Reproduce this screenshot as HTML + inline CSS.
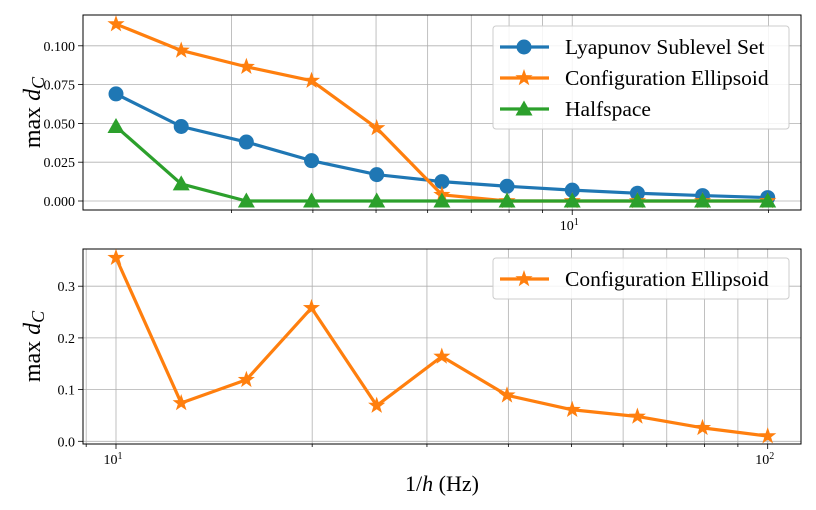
<!DOCTYPE html>
<html><head><meta charset="utf-8"><style>
body{margin:0;background:#fff}
svg{display:block;font-family:"Liberation Serif",serif}
</style></head><body>
<svg id="fig" width="816" height="510" viewBox="0 0 816 510" xmlns="http://www.w3.org/2000/svg"></svg>
<script>
const topFreq=[1.995,2.512,3.162,3.981,5.012,6.310,7.943,10,12.59,15.85,19.95];
const bottomFreq=[10,12.59,15.85,19.95,25.12,31.62,39.81,50.12,63.10,79.43,100];
const lyapunov=[0.069,0.048,0.038,0.026,0.017,0.0125,0.0095,0.007,0.005,0.0035,0.0022];
const ellipsoidTop=[0.114,0.097,0.0865,0.0775,0.047,0.004,0,0,0,0,0];
const halfspace=[0.048,0.011,0,0,0,0,0,0,0,0,0];
const ellipsoidBottom=[0.355,0.074,0.119,0.258,0.069,0.164,0.089,0.061,0.048,0.026,0.010];
const topTicks=[0,0.025,0.05,0.075,0.1];
const topTickLabels=["0.000","0.025","0.050","0.075","0.100"];
const botTicks=[0,0.1,0.2,0.3];
const botTickLabels=["0.0","0.1","0.2","0.3"];

const NS="http://www.w3.org/2000/svg";
const svg=document.getElementById('fig');
function mk(tag,attrs,parent){const e=document.createElementNS(NS,tag);for(const k in attrs)e.setAttribute(k,attrs[k]);(parent||svg).appendChild(e);return e;}
const L=83,R=801;
const decade=651.7;
function xBot(v){return 116+Math.log10(v/10)*decade;}
function xTop(v){return 116+Math.log10(v/1.995)*decade;}
function yTop(v){return 201-v/0.025*38.8;}
function yBot(v){return 441.3-v/0.1*51.7;}
const C={blue:'#1f77b4',orange:'#ff7f0e',green:'#2ca02c'};

function starPts(cx,cy,r){let p=[];for(let i=0;i<10;i++){const a=-Math.PI/2+i*Math.PI/5;const rr=i%2?r*0.4:r;p.push((cx+rr*Math.cos(a)).toFixed(1)+','+(cy+rr*Math.sin(a)).toFixed(1));}return p.join(' ');}
function marker(type,x,y,col,g){
 if(type==='o') return mk('circle',{cx:x,cy:y,r:7.5,fill:col},g);
 if(type==='*') return mk('polygon',{points:starPts(x,y,9),fill:col},g);
 return mk('polygon',{points:`${x},${y-8.5} ${x-8.5},${y+6.5} ${x+8.5},${y+6.5}`,fill:col},g);
}
function axes(name,T,B,xf,minorVals,majorVals,majorLabels,ticks,tickLabels,yf){
 const g=mk('g',{});
 
 
 minorVals.concat(majorVals).forEach(v=>{const x=xf(v);if(x<L||x>R)return;mk('line',{x1:x,x2:x,y1:T,y2:B,stroke:'#b0b0b0','stroke-width':0.8},g);mk('line',{x1:x,x2:x,y1:B,y2:B+(majorVals.includes(v)?5:3),stroke:'#000','stroke-width':0.8},g);});
 ticks.forEach((t,i)=>{const y=yf(t);mk('line',{x1:L,x2:R,y1:y,y2:y,stroke:'#b0b0b0','stroke-width':0.8},g);mk('line',{x1:L-5,x2:L,y1:y,y2:y,stroke:'#000','stroke-width':0.8},g);const tx=mk('text',{x:L-8,y:y+5,'text-anchor':'end','font-size':14,fill:'#000'},g);tx.textContent=tickLabels[i];});
 majorVals.forEach((v,i)=>{const x=xf(v);const tx=mk('text',{x:x-3,y:B+20,'text-anchor':'middle','font-size':14},g);tx.textContent='10';const s=mk('tspan',{dy:-5,'font-size':10},tx);s.textContent=majorLabels[i];});
 mk('rect',{x:L,y:T,width:R-L,height:B-T,fill:'none',stroke:'#000','stroke-width':1},g);
 const yl=mk('text',{transform:`translate(40,${(T+B)/2}) rotate(-90)`,'text-anchor':'middle','font-size':24},g);
 
 
 yl.appendChild(document.createTextNode('max '));const d=mk('tspan',{'font-style':'italic'},yl);d.textContent='d';const c=mk('tspan',{'font-style':'italic','font-size':18,dy:4},yl);c.textContent='C';
 return g;
}
function series(g,name,xs,ys,xf,yf,col,type){
 const s=mk('g',{},g);
 
 
 mk('polyline',{points:xs.map((x,i)=>xf(x)+','+yf(ys[i])).join(' '),fill:'none',stroke:col,'stroke-width':3.2,'stroke-linejoin':'round'},s);
 xs.forEach((x,i)=>{const m=marker(type,xf(x),yf(ys[i]),col,s);});
}
function legend(g,name,x,y,w,entries){
 const lg=mk('g',{},g);
 
 
 mk('rect',{x:x,y:y,width:w,height:entries.length*31+10,rx:3,fill:'#fff','fill-opacity':0.85,stroke:'#ccc'},lg);
 entries.forEach((e,i)=>{const cy=y+21+i*31;const eg=mk('g',{},lg);
  
  
  mk('line',{x1:x+7,x2:x+56,y1:cy,y2:cy,stroke:e[1],'stroke-width':3.2},eg);marker(e[2],x+31,cy,e[1],eg);
  const t=mk('text',{x:x+72,y:cy+7,'font-size':21.5},eg);t.textContent=e[0];});
}
const topMinor=[3,4,5,6,7,8,9,20];
const g1=axes('top-axes',15,210,xTop,topMinor,[10],['1'],topTicks,topTickLabels,yTop);
series(g1,'lyapunov-series',topFreq,lyapunov,xTop,yTop,C.blue,'o');
series(g1,'ellipsoid-series',topFreq,ellipsoidTop,xTop,yTop,C.orange,'*');
series(g1,'halfspace-series',topFreq,halfspace,xTop,yTop,C.green,'^');
legend(g1,'top-legend',493,26,296,[['Lyapunov Sublevel Set',C.blue,'o'],['Configuration Ellipsoid',C.orange,'*'],['Halfspace',C.green,'^']]);
const botMinor=[9,20,30,40,50,60,70,80,90];
const g2=axes('bottom-axes',249,444,xBot,botMinor,[10,100],['1','2'],botTicks,botTickLabels,yBot);
series(g2,'ellipsoid-bottom-series',bottomFreq,ellipsoidBottom,xBot,yBot,C.orange,'*');
legend(g2,'bottom-legend',493,258,296,[['Configuration Ellipsoid',C.orange,'*']]);
const xl=mk('text',{x:442,y:491,'text-anchor':'middle','font-size':22});


xl.appendChild(document.createTextNode('1/'));const hh=mk('tspan',{'font-style':'italic'},xl);hh.textContent='h';xl.appendChild(document.createTextNode(' (Hz)'));
</script>
</body></html>
